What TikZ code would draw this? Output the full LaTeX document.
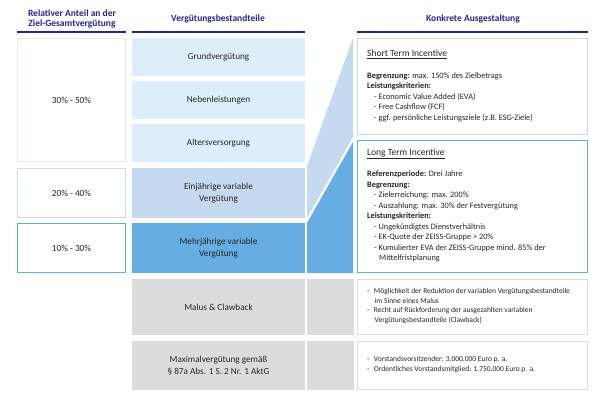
\documentclass[tikz,border=0pt]{standalone}
\usepackage{fontspec}
\setmainfont{Carlito}
\definecolor{navy}{HTML}{25259A}
\definecolor{pale}{HTML}{DDEEFB}
\definecolor{midb}{HTML}{C5D9F1}
\definecolor{darkb}{HTML}{65ADE2}
\definecolor{grayc}{HTML}{DCDCDC}
\definecolor{txt}{HTML}{262626}
\begin{document}
\begin{tikzpicture}[x=1pt,y=-1pt,
  hdr/.style={font=\fontsize{9.5}{10.8}\selectfont\bfseries, text=navy, align=center},
  hline/.style={draw=navy, line width=1.4pt},
  comp/.style={font=\fontsize{9.2}{11.6}\selectfont, text=txt, align=center},
  pct/.style={font=\fontsize{9.3}{10.8}\selectfont, text=txt},
  body/.style={font=\fontsize{8.3}{10.5}\selectfont, text=txt, align=left, anchor=north west, inner sep=0pt},
  small/.style={font=\fontsize{7.5}{9.7}\selectfont, text=txt, align=left, anchor=north west, inner sep=0pt},
  ttl/.style={font=\fontsize{9.5}{10.8}\selectfont, text=txt, anchor=west, inner sep=0pt}
]
\useasboundingbox (0,0) rectangle (605,406);
\fill[white] (0,0) rectangle (605,406);

% headers
\node[hdr] (h1) at (72,19) {Relativer Anteil an der\\Ziel-Gesamtvergütung};
\node[hdr] (h2) at (218,19) {Vergütungsbestandteile};
\node[hdr] (h3) at (473,19) {Konkrete Ausgestaltung};
\draw[hline] (17,32) -- (126,32);
\draw[hline] (132,32) -- (305,32);
\draw[hline] (357,32) -- (588,32);

% left column
\draw[pale, line width=1.3pt, fill=white] (17.5,38.5) rectangle (125.5,161.5);
\node[pct] (p1) at (71.5,100) {30\% - 50\%};
\draw[midb, line width=1.3pt, fill=white] (17.5,168.5) rectangle (125.5,217.5);
\node[pct] (p2) at (71.5,193) {20\% - 40\%};
\draw[darkb, line width=1.3pt, fill=white] (17.5,223.5) rectangle (125.5,272.5);
\node[pct] (p3) at (71.5,248) {10\% - 30\%};

% middle column
\fill[pale] (132,38) rectangle (305,76);
\node[comp] (c1) at (218.5,57) {Grundvergütung};
\fill[pale] (132,81) rectangle (305,119);
\node[comp] (c2) at (218.5,100) {Nebenleistungen};
\fill[pale] (132,124) rectangle (305,162);
\node[comp] (c3) at (218.5,143) {Altersversorgung};
\fill[midb] (132,168) rectangle (305,218);
\node[comp] (c4) at (218.5,193) {Einjährige variable\\Vergütung};
\fill[darkb] (132,223) rectangle (305,273);
\node[comp] (c5) at (218.5,248) {Mehrjährige variable\\Vergütung};
\fill[grayc] (132,279) rectangle (305,335);
\node[comp] (c6) at (218.5,307) {Malus \& Clawback};
\fill[grayc] (132,341) rectangle (305,390);
\node[comp] (c7) at (218.5,365.5) {Maximalvergütung gemäß\\§ 87a Abs. 1 S. 2 Nr. 1 AktG};

% connector column
\coordinate (la) at (307,166);
\coordinate (lb) at (353,38);
\coordinate (lc) at (353,137);
\coordinate (ld) at (307,218);
\fill[midb] (la) -- (lb) -- (lc) -- (ld) -- cycle;
\coordinate (da) at (307,223);
\coordinate (db) at (353,142);
\coordinate (dc) at (353,273);
\coordinate (dd) at (307,273);
\fill[darkb] (da) -- (db) -- (dc) -- (dd) -- cycle;
\fill[grayc] (307,279) rectangle (354,335);
\fill[grayc] (307,341) rectangle (354,390);

% right column
\draw[midb, line width=1.2pt, fill=white] (357.5,38.5) rectangle (587.5,134.5);
\node[ttl] (t1) at (367,54) {\underline{Short Term Incentive}};
\node[body] (b1) at (367,72.5) {\textbf{Begrenzung:} max. 150\% des Zielbetrags\\
\textbf{Leistungskriterien:}\\
\hspace{7pt}- Economic Value Added (EVA)\\
\hspace{7pt}- Free Cashflow (FCF)\\
\hspace{7pt}- ggf. persönliche Leistungsziele (z.B. ESG-Ziele)};

\draw[darkb, line width=1.2pt, fill=white] (357.5,140.5) rectangle (587.5,272.5);
\node[ttl] (t2) at (367,154) {\underline{Long Term Incentive}};
\node[body] (b2) at (367,170.5) {\textbf{Referenzperiode:} Drei Jahre\\
\textbf{Begrenzung:}\\
\hspace{7pt}- Zielerreichung: max. 200\%\\
\hspace{7pt}- Auszahlung: max. 30\% der Festvergütung\\
\textbf{Leistungskriterien:}\\
\hspace{7pt}- Ungekündigtes Dienstverhältnis\\
\hspace{7pt}- EK-Quote der ZEISS-Gruppe > 20\%\\
\hspace{7pt}- Kumulierter EVA der ZEISS-Gruppe mind. 85\% der\\
\hspace{12pt}Mittelfristplanung};

\draw[grayc, line width=1pt, fill=white] (357.5,279.5) rectangle (587.5,334.5);
\node[small] (m1) at (367,288) {-\hspace{4.5pt}Möglichkeit der Reduktion der variablen Vergütungsbestandteile\\
\hspace{7.5pt}im Sinne eines Malus\\
-\hspace{4.5pt}Recht auf Rückforderung der ausgezahlten variablen\\
\hspace{7.5pt}Vergütungsbestandteile (Clawback)};

\draw[grayc, line width=1pt, fill=white] (357.5,341.5) rectangle (587.5,389.5);
\node[small] (m2) at (367,356) {-\hspace{4.5pt}Vorstandsvorsitzender: 3.000.000 Euro p. a.\\
-\hspace{4.5pt}Ordentliches Vorstandsmitglied: 1.750.000 Euro p. a.};
\end{tikzpicture}
\end{document}
